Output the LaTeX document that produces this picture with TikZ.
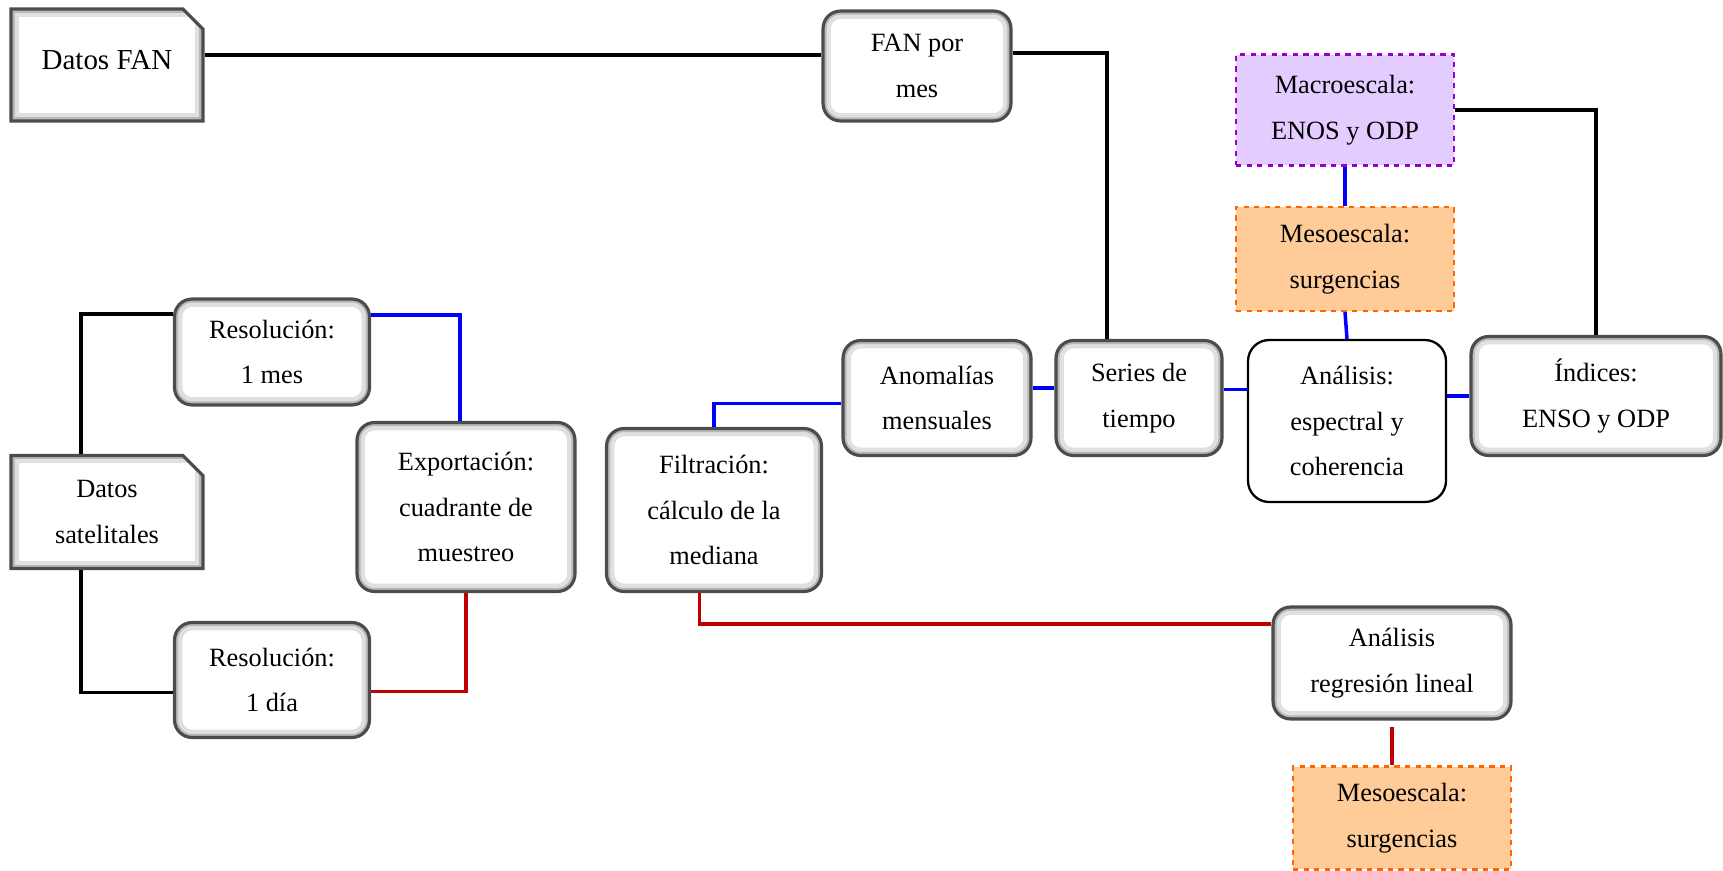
\documentclass[tikz,border=0pt]{standalone}
\usepackage{fontspec}
\setmainfont{Liberation Serif}
\usetikzlibrary{shapes.misc}
\definecolor{macrofill}{RGB}{227,204,255}
\definecolor{macroline}{RGB}{153,0,204}
\definecolor{mesofill}{RGB}{255,204,153}
\definecolor{mesoline}{RGB}{255,102,0}
\definecolor{darkred}{RGB}{192,0,0}

\begin{document}
\begin{tikzpicture}[x=0.02cm, y=-0.02cm]
\tikzset{txt/.style = {align=center, font=\rmfamily\fontsize{15}{26}\selectfont}}
\tikzset{glow/.style = {fill=white, path picture={
    \draw[black!12, line width=9pt, rounded corners=#1] (path picture bounding box.south west) rectangle (path picture bounding box.north east);
    \draw[black!28, line width=4pt, rounded corners=#1] (path picture bounding box.south west) rectangle (path picture bounding box.north east);}}}
\tikzset{box/.style = {txt, rounded corners=10pt, draw=black!70, line width=1.8pt, glow=10pt}}
\tikzset{docbox/.style = {txt, chamfered rectangle, chamfered rectangle corners=north east, chamfered rectangle sep=0.2cm, draw=black!70, line width=1.8pt, glow=0pt}}
\tikzset{plainbox/.style = {txt, rounded corners=12pt, draw=black, line width=1.3pt, fill=white}}
\tikzset{macrobox/.style = {txt, draw=macroline, fill=macrofill, dashed, line width=1.3pt}}
\tikzset{mesobox/.style = {txt, draw=mesoline, fill=mesofill, dashed, line width=1.3pt}}
\tikzset{kline/.style = {line width=2pt, color=black}}
\tikzset{bline/.style = {line width=2pt, color=blue}}
\tikzset{rline/.style = {line width=2pt, color=darkred}}

\useasboundingbox (0,0) rectangle (1723,871);

% top row
\node[docbox, minimum width=3.84cm, minimum height=2.24cm, font=\rmfamily\fontsize{16.5}{26}\selectfont] (fan) at (107,65) {\raisebox{0.2cm}{Datos FAN}};
\node[box, minimum width=3.76cm, minimum height=2.2cm] (fanmes) at (917,66) {FAN por\\mes};
\node[macrobox, minimum width=4.36cm, minimum height=2.22cm] (macro) at (1345,110) {Macroescala:\\ENOS y ODP};
\node[mesobox, minimum width=4.36cm, minimum height=2.08cm] (meso1) at (1345,259) {Mesoescala:\\surgencias};

% middle row
\node[box, minimum width=3.9cm, minimum height=2.12cm] (res1) at (272,352) {Resolución:\\1 mes};
\node[box, minimum width=3.76cm, minimum height=2.3cm] (anom) at (937,398) {Anomalías\\mensuales};
\node[box, minimum width=3.32cm, minimum height=2.3cm] (series) at (1139,398) {Series de\\tiempo};
\node[plainbox, minimum width=3.96cm, minimum height=3.24cm] (espec) at (1347,421) {Análisis:\\espectral y\\coherencia};
\node[box, minimum width=5.0cm, minimum height=2.38cm] (ind) at (1596,396) {Índices:\\ENSO y ODP};
\node[docbox, minimum width=3.84cm, minimum height=2.26cm] (sat) at (107,512) {Datos\\satelitales};
\node[box, minimum width=4.36cm, minimum height=3.38cm] (exp) at (466,507) {Exportación:\\cuadrante de\\muestreo};
\node[box, minimum width=4.3cm, minimum height=3.26cm] (filt) at (714,510) {Filtración:\\cálculo de la\\mediana};

% bottom row
\node[box, minimum width=3.9cm, minimum height=2.3cm] (res2) at (272,680) {Resolución:\\1 día};
\node[box, minimum width=4.76cm, minimum height=2.24cm] (reg) at (1392,663) {Análisis\\regresión lineal};
\node[mesobox, minimum width=4.36cm, minimum height=2.06cm] (meso2) at (1402,818) {Mesoescala:\\surgencias};

% connectors
\draw[kline] ([yshift=0.2cm]fan.east) -- ([yshift=0.2cm]fan.east -| fanmes.west);
\draw[kline] ([yshift=0.26cm]fanmes.east) -| ([xshift=-0.64cm]series.north);
\draw[kline] (macro.east) -| (ind.north);
\draw[kline] ([xshift=-0.52cm]sat.north) |- ([yshift=0.76cm]res1.west);
\draw[kline] ([xshift=-0.52cm]sat.south) |- ([yshift=-0.25cm]res2.west);

\draw[bline] (macro.south) -- (meso1.north);
\draw[bline] (meso1.south) -- (espec.north);
\draw[bline] (ind.west) -- (ind.west -| espec.east);
\draw[bline] ([yshift=0.17cm]series.east) -- ([yshift=0.17cm]series.east -| espec.west);
\draw[bline] ([yshift=0.2cm]anom.east) -- ([yshift=0.2cm]anom.east -| series.west);
\draw[bline] (filt.north) |- ([yshift=-0.11cm]anom.west);
\draw[bline] ([yshift=0.74cm]res1.east) -| ([xshift=-0.12cm]exp.north);

\draw[rline] (exp.south) |- ([yshift=-0.23cm]res2.east);
\draw[rline] ([xshift=-0.29cm]filt.south) |- ([yshift=0.78cm]reg.west);
\draw[rline] ([yshift=-0.12cm]reg.south) -- (reg.south |- meso2.north);

\end{tikzpicture}
\end{document}
